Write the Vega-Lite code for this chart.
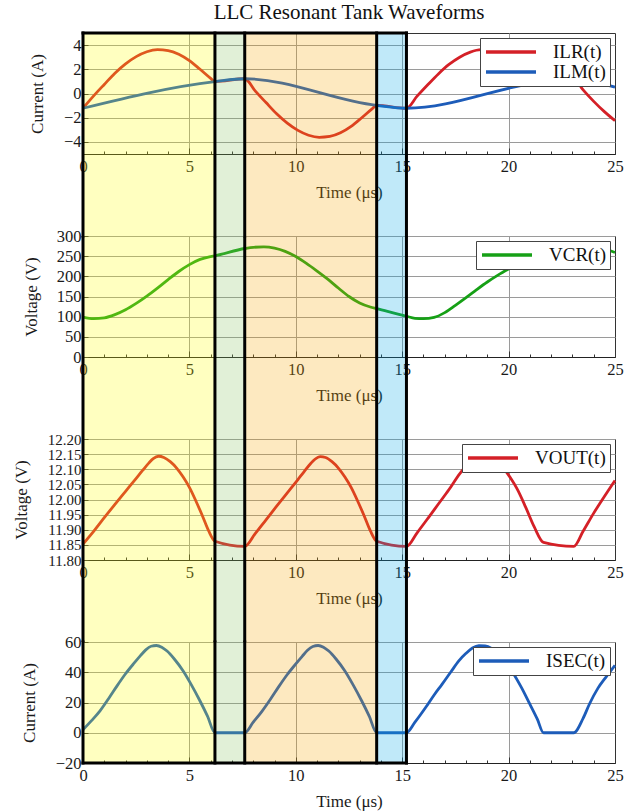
{
  "$schema": "https://vega.github.io/schema/vega-lite/v6.json",
  "background": "white",
  "padding": {"left": 11, "top": 1, "right": 5, "bottom": 5},
  "spacing": 82,
  "bounds": "flush",
  "resolve": {"scale": {"color": "independent"}, "legend": {"color": "independent"}},
  "config": {
    "font": "Liberation Serif",
    "view": {"stroke": "#333", "strokeWidth": 1},
    "axis": {
      "labelFont": "Liberation Serif", "labelFontSize": 16.5, "labelColor": "#1a1a1a", "labelOverlap": false, "tickCount": 100,
      "titleFont": "Liberation Serif", "titleFontSize": 17, "titleFontWeight": "normal", "titleColor": "#1a1a1a",
      "domainColor": "#222", "tickColor": "#333", "gridColor": "#9a9a9a", "gridOpacity": 1, "gridWidth": 1
    },
    "legend": {
      "orient": "top-right", "offset": 5, "title": null,
      "symbolType": "M-3.125,0H3.125", "symbolSize": 256, "symbolOffset": 17, "symbolStrokeWidth": 3.5,
      "labelOffset": 32, "labelFontSize": 19, "labelFont": "Liberation Serif", "labelColor": "#111", "labelLimit": 0,
      "strokeColor": "#444", "fillColor": "#ffffff", "padding": 4, "rowPadding": 0
    }
  },
  "datasets": {
    "cur": [
      {"t": 0, "v": -1.22, "s": "ILR(t)"}, {"t": 0.5, "v": -0.2, "s": "ILR(t)"}, {"t": 1, "v": 0.75, "s": "ILR(t)"}, {"t": 1.5, "v": 1.68, "s": "ILR(t)"},
      {"t": 2, "v": 2.45, "s": "ILR(t)"}, {"t": 2.5, "v": 3.05, "s": "ILR(t)"}, {"t": 3, "v": 3.45, "s": "ILR(t)"}, {"t": 3.5, "v": 3.62, "s": "ILR(t)"},
      {"t": 4, "v": 3.55, "s": "ILR(t)"}, {"t": 4.5, "v": 3.25, "s": "ILR(t)"}, {"t": 5, "v": 2.72, "s": "ILR(t)"}, {"t": 5.5, "v": 2.0, "s": "ILR(t)"},
      {"t": 6, "v": 1.25, "s": "ILR(t)"}, {"t": 6.2, "v": 0.98, "s": "ILR(t)"}, {"t": 7.6, "v": 1.22, "s": "ILR(t)"},
      {"t": 8.1, "v": 0.2, "s": "ILR(t)"}, {"t": 8.6, "v": -0.75, "s": "ILR(t)"}, {"t": 9.1, "v": -1.68, "s": "ILR(t)"}, {"t": 9.6, "v": -2.45, "s": "ILR(t)"},
      {"t": 10.1, "v": -3.05, "s": "ILR(t)"}, {"t": 10.6, "v": -3.45, "s": "ILR(t)"}, {"t": 11.1, "v": -3.62, "s": "ILR(t)"}, {"t": 11.6, "v": -3.55, "s": "ILR(t)"},
      {"t": 12.1, "v": -3.25, "s": "ILR(t)"}, {"t": 12.6, "v": -2.72, "s": "ILR(t)"}, {"t": 13.1, "v": -2.0, "s": "ILR(t)"}, {"t": 13.6, "v": -1.25, "s": "ILR(t)"},
      {"t": 13.8, "v": -0.98, "s": "ILR(t)"}, {"t": 15.2, "v": -1.22, "s": "ILR(t)"},
      {"t": 15.7, "v": -0.22, "s": "ILR(t)"}, {"t": 16.2, "v": 0.72, "s": "ILR(t)"}, {"t": 16.7, "v": 1.62, "s": "ILR(t)"}, {"t": 17.2, "v": 2.4, "s": "ILR(t)"},
      {"t": 17.7, "v": 3.0, "s": "ILR(t)"}, {"t": 18.2, "v": 3.42, "s": "ILR(t)"}, {"t": 18.7, "v": 3.62, "s": "ILR(t)"}, {"t": 19.2, "v": 3.58, "s": "ILR(t)"},
      {"t": 19.7, "v": 3.32, "s": "ILR(t)"}, {"t": 20.2, "v": 2.85, "s": "ILR(t)"}, {"t": 20.7, "v": 2.2, "s": "ILR(t)"}, {"t": 21.2, "v": 1.5, "s": "ILR(t)"},
      {"t": 21.64, "v": 1.0, "s": "ILR(t)"}, {"t": 23.06, "v": 1.22, "s": "ILR(t)"}, {"t": 23.5, "v": 0.3, "s": "ILR(t)"}, {"t": 24, "v": -0.65, "s": "ILR(t)"},
      {"t": 24.5, "v": -1.5, "s": "ILR(t)"}, {"t": 25, "v": -2.25, "s": "ILR(t)"},
      {"t": 0, "v": -1.22, "s": "ILM(t)"}, {"t": 6.2, "v": 0.98, "s": "ILM(t)"}, {"t": 7.6, "v": 1.22, "s": "ILM(t)"}, {"t": 13.8, "v": -0.98, "s": "ILM(t)"},
      {"t": 15.2, "v": -1.22, "s": "ILM(t)"}, {"t": 21.64, "v": 0.98, "s": "ILM(t)"}, {"t": 23.06, "v": 1.22, "s": "ILM(t)"}, {"t": 25, "v": 0.52, "s": "ILM(t)"}
    ],
    "vcr": [
      {"t": 0, "v": 99}, {"t": 0.5, "v": 95}, {"t": 1, "v": 97}, {"t": 1.5, "v": 105}, {"t": 2, "v": 117}, {"t": 2.5, "v": 133},
      {"t": 3, "v": 151}, {"t": 3.5, "v": 171}, {"t": 4, "v": 192}, {"t": 4.5, "v": 212}, {"t": 5, "v": 229}, {"t": 5.5, "v": 242},
      {"t": 6, "v": 249}, {"t": 6.2, "v": 251}, {"t": 7.6, "v": 269}, {"t": 8, "v": 272}, {"t": 8.5, "v": 273}, {"t": 9, "v": 270},
      {"t": 9.5, "v": 262}, {"t": 10, "v": 249}, {"t": 10.5, "v": 232}, {"t": 11, "v": 213}, {"t": 11.5, "v": 193}, {"t": 12, "v": 171},
      {"t": 12.5, "v": 150}, {"t": 13, "v": 134}, {"t": 13.5, "v": 124}, {"t": 13.8, "v": 120}, {"t": 15.2, "v": 101}, {"t": 15.6, "v": 96},
      {"t": 16, "v": 95}, {"t": 16.5, "v": 98}, {"t": 17, "v": 110}, {"t": 17.5, "v": 128}, {"t": 18, "v": 147}, {"t": 18.5, "v": 167},
      {"t": 19, "v": 186}, {"t": 19.5, "v": 203}, {"t": 20, "v": 218}, {"t": 20.5, "v": 232}, {"t": 21, "v": 243}, {"t": 21.64, "v": 251},
      {"t": 23.06, "v": 269}, {"t": 23.5, "v": 272}, {"t": 24, "v": 273}, {"t": 24.5, "v": 268}, {"t": 25, "v": 259}
    ],
    "vout": [
      {"t": 0, "v": 11.853}, {"t": 0.5, "v": 11.895}, {"t": 1, "v": 11.94}, {"t": 1.5, "v": 11.984}, {"t": 2, "v": 12.027}, {"t": 2.5, "v": 12.07},
      {"t": 2.8, "v": 12.096}, {"t": 3.1, "v": 12.121}, {"t": 3.3, "v": 12.135}, {"t": 3.55, "v": 12.143}, {"t": 3.8, "v": 12.139}, {"t": 4.1, "v": 12.125},
      {"t": 4.4, "v": 12.104}, {"t": 4.7, "v": 12.075}, {"t": 5.0, "v": 12.04}, {"t": 5.3, "v": 11.996}, {"t": 5.6, "v": 11.948}, {"t": 5.9, "v": 11.897},
      {"t": 6.2, "v": 11.862}, {"t": 7.6, "v": 11.845},
      {"t": 8.1, "v": 11.888}, {"t": 8.6, "v": 11.933}, {"t": 9.1, "v": 11.978}, {"t": 9.6, "v": 12.022}, {"t": 10.1, "v": 12.066}, {"t": 10.4, "v": 12.093},
      {"t": 10.7, "v": 12.119}, {"t": 10.9, "v": 12.133}, {"t": 11.15, "v": 12.142}, {"t": 11.4, "v": 12.139}, {"t": 11.7, "v": 12.125}, {"t": 12.0, "v": 12.104},
      {"t": 12.3, "v": 12.075}, {"t": 12.6, "v": 12.04}, {"t": 12.9, "v": 11.996}, {"t": 13.2, "v": 11.948}, {"t": 13.5, "v": 11.897}, {"t": 13.8, "v": 11.862},
      {"t": 15.2, "v": 11.845},
      {"t": 15.7, "v": 11.89}, {"t": 16.2, "v": 11.937}, {"t": 16.7, "v": 11.985}, {"t": 17.2, "v": 12.033}, {"t": 17.7, "v": 12.085}, {"t": 18.0, "v": 12.11},
      {"t": 18.3, "v": 12.129}, {"t": 18.6, "v": 12.14}, {"t": 18.85, "v": 12.143}, {"t": 19.1, "v": 12.139}, {"t": 19.4, "v": 12.126}, {"t": 19.74, "v": 12.105},
      {"t": 20.1, "v": 12.07}, {"t": 20.4, "v": 12.035}, {"t": 20.8, "v": 11.975}, {"t": 21.2, "v": 11.91}, {"t": 21.64, "v": 11.858}, {"t": 23.06, "v": 11.845},
      {"t": 23.5, "v": 11.895}, {"t": 24, "v": 11.955}, {"t": 24.5, "v": 12.01}, {"t": 25, "v": 12.063}
    ],
    "isec": [
      {"t": 0, "v": 2}, {"t": 0.4, "v": 8}, {"t": 0.8, "v": 14.5}, {"t": 1.2, "v": 22.5}, {"t": 1.6, "v": 31}, {"t": 2.0, "v": 39},
      {"t": 2.4, "v": 46}, {"t": 2.7, "v": 51}, {"t": 2.95, "v": 54.8}, {"t": 3.2, "v": 57.2}, {"t": 3.45, "v": 57.7}, {"t": 3.7, "v": 56.6},
      {"t": 3.95, "v": 54}, {"t": 4.3, "v": 48.6}, {"t": 4.7, "v": 41}, {"t": 5.1, "v": 31.5}, {"t": 5.5, "v": 21}, {"t": 5.85, "v": 11},
      {"t": 6.2, "v": 0}, {"t": 7.6, "v": 0},
      {"t": 8.0, "v": 7}, {"t": 8.4, "v": 14}, {"t": 8.8, "v": 22}, {"t": 9.2, "v": 30.5}, {"t": 9.6, "v": 38.5}, {"t": 10.0, "v": 45.5},
      {"t": 10.3, "v": 50.5}, {"t": 10.55, "v": 54.5}, {"t": 10.8, "v": 57}, {"t": 11.05, "v": 57.7}, {"t": 11.3, "v": 56.6}, {"t": 11.55, "v": 54},
      {"t": 11.9, "v": 48.6}, {"t": 12.3, "v": 41}, {"t": 12.7, "v": 31.5}, {"t": 13.1, "v": 21}, {"t": 13.45, "v": 11}, {"t": 13.8, "v": 0},
      {"t": 15.2, "v": 0},
      {"t": 15.6, "v": 7}, {"t": 16.1, "v": 16.7}, {"t": 16.5, "v": 25}, {"t": 16.87, "v": 32}, {"t": 17.3, "v": 40.5}, {"t": 17.66, "v": 47.5},
      {"t": 18.0, "v": 52.5}, {"t": 18.3, "v": 56}, {"t": 18.6, "v": 57.6}, {"t": 18.9, "v": 57.5}, {"t": 19.2, "v": 55.8}, {"t": 19.6, "v": 50.5},
      {"t": 20.2, "v": 39.7}, {"t": 20.6, "v": 30}, {"t": 21.0, "v": 18.9}, {"t": 21.35, "v": 9}, {"t": 21.64, "v": 0}, {"t": 23.06, "v": 0},
      {"t": 23.5, "v": 9.5}, {"t": 23.8, "v": 19}, {"t": 24.2, "v": 29.5}, {"t": 24.56, "v": 36.5}, {"t": 25, "v": 44.5}
    ],
    "phases": [
      {"a": 0, "b": 6.2, "p": "P1"}, {"a": 6.2, "b": 7.6, "p": "P2"}, {"a": 7.6, "b": 13.8, "p": "P3"}, {"a": 13.8, "b": 15.2, "p": "P4"}
    ],
    "edges": [{"t": 0}, {"t": 6.2}, {"t": 7.6}, {"t": 13.8}, {"t": 15.2}]
  },
  "vconcat": [
    {
      "width": 532, "height": 121,
      "title": {"text": "LLC Resonant Tank Waveforms", "anchor": "middle", "frame": "group", "offset": -9, "baseline": "alphabetic", "fontSize": 21, "font": "Liberation Serif", "fontWeight": "normal", "color": "#111"},
      "layer": [
        {"data": {"name": "cur"}, "mark": {"type": "line", "interpolate": "monotone", "strokeWidth": 2.8},
         "encoding": {
           "x": {"field": "t", "type": "quantitative", "scale": {"domain": [0, 25], "nice": false, "zero": false},
                 "axis": {"title": "Time (μs)", "values": [0,1,2,3,4,5,6,7,8,9,10,11,12,13,14,15,16,17,18,19,20,21,22,23,24,25], "format": "d", "tickCount": 100, "labelExpr": "datum.value % 5 === 0 ? datum.label : ''", "labelOverlap": false, "labelFlush": false, "labelBound": false, "tickSize": {"condition": {"test": "datum.value % 5 === 0", "value": -6}, "value": -3}, "gridColor": {"condition": {"test": "datum.value % 5 === 0 && datum.value > 0 && datum.value < 25", "value": "#9a9a9a"}, "value": "rgba(0,0,0,0)"}, "labelPadding": 10, "titlePadding": 7}},
           "y": {"field": "v", "type": "quantitative", "scale": {"domain": [-5, 5], "nice": false, "zero": false},
                 "axis": {"title": "Current (A)", "values": [-4, -2, 0, 2, 4], "format": "d", "tickCount": 100, "labelOverlap": false, "tickSize": -5, "labelPadding": 7, "titlePadding": 17}},
           "color": {"field": "s", "type": "nominal", "scale": {"domain": ["ILR(t)", "ILM(t)"], "range": ["#d42027", "#1d5cb9"]}, "legend": {}}
         }},
        {"data": {"name": "phases"}, "mark": {"type": "rect", "opacity": 0.25, "clip": false},
         "encoding": {"x": {"field": "a", "type": "quantitative"}, "x2": {"field": "b"}, "y": {"datum": 5, "type": "quantitative"}, "y2": {"datum": -11.777},
           "fill": {"field": "p", "type": "nominal", "scale": {"domain": ["P1", "P2", "P3", "P4"], "range": ["#ffff03", "#87c35f", "#f7a703", "#03a7e7"]}, "legend": null}}},
        {"data": {"name": "edges"}, "mark": {"type": "rule", "strokeWidth": 3, "color": "#000", "clip": false, "strokeCap": "square"},
         "encoding": {"x": {"field": "t", "type": "quantitative"}, "y": {"datum": 5, "type": "quantitative"}, "y2": {"datum": -11.777}}},
        {"data": {"values": [{}]}, "mark": {"type": "rule", "strokeWidth": 3, "color": "#000", "clip": false, "strokeCap": "square"},
         "encoding": {"x": {"datum": 0, "type": "quantitative"}, "x2": {"datum": 15.2}, "y": {"datum": 5, "type": "quantitative"}}}
      ]
    },
    {
      "width": 532, "height": 121,
      "layer": [
        {"data": {"name": "vcr"}, "mark": {"type": "line", "interpolate": "monotone", "strokeWidth": 2.8},
         "encoding": {
           "x": {"field": "t", "type": "quantitative", "scale": {"domain": [0, 25], "nice": false, "zero": false},
                 "axis": {"title": "Time (μs)", "values": [0,1,2,3,4,5,6,7,8,9,10,11,12,13,14,15,16,17,18,19,20,21,22,23,24,25], "format": "d", "tickCount": 100, "labelExpr": "datum.value % 5 === 0 ? datum.label : ''", "labelOverlap": false, "labelFlush": false, "labelBound": false, "tickSize": {"condition": {"test": "datum.value % 5 === 0", "value": -6}, "value": -3}, "gridColor": {"condition": {"test": "datum.value % 5 === 0 && datum.value > 0 && datum.value < 25", "value": "#9a9a9a"}, "value": "rgba(0,0,0,0)"}, "labelPadding": 10, "titlePadding": 7}},
           "y": {"field": "v", "type": "quantitative", "scale": {"domain": [0, 300], "nice": false, "zero": false},
                 "axis": {"title": "Voltage (V)", "values": [0, 50, 100, 150, 200, 250, 300], "format": "d", "tickCount": 100, "labelOverlap": false, "tickSize": -5, "labelPadding": 7, "titlePadding": 15.5}},
           "color": {"datum": "VCR(t)", "type": "nominal", "scale": {"range": ["#16a016"]}, "legend": {}}
         }},
        {"data": {"name": "phases"}, "mark": {"type": "rect", "opacity": 0.25, "clip": false},
         "encoding": {"x": {"field": "a", "type": "quantitative"}, "x2": {"field": "b"}, "y": {"datum": 300, "type": "quantitative"}, "y2": {"datum": -203.3},
           "fill": {"field": "p", "type": "nominal", "scale": {"domain": ["P1", "P2", "P3", "P4"], "range": ["#ffff03", "#87c35f", "#f7a703", "#03a7e7"]}, "legend": null}}},
        {"data": {"name": "edges"}, "mark": {"type": "rule", "strokeWidth": 3, "color": "#000", "clip": false},
         "encoding": {"x": {"field": "t", "type": "quantitative"}, "y": {"datum": 300, "type": "quantitative"}, "y2": {"datum": -203.3}}}
      ]
    },
    {
      "width": 532, "height": 121,
      "layer": [
        {"data": {"name": "vout"}, "mark": {"type": "line", "interpolate": "monotone", "strokeWidth": 2.8},
         "encoding": {
           "x": {"field": "t", "type": "quantitative", "scale": {"domain": [0, 25], "nice": false, "zero": false},
                 "axis": {"title": "Time (μs)", "values": [0,1,2,3,4,5,6,7,8,9,10,11,12,13,14,15,16,17,18,19,20,21,22,23,24,25], "format": "d", "tickCount": 100, "labelExpr": "datum.value % 5 === 0 ? datum.label : ''", "labelOverlap": false, "labelFlush": false, "labelBound": false, "tickSize": {"condition": {"test": "datum.value % 5 === 0", "value": -6}, "value": -3}, "gridColor": {"condition": {"test": "datum.value % 5 === 0 && datum.value > 0 && datum.value < 25", "value": "#9a9a9a"}, "value": "rgba(0,0,0,0)"}, "labelPadding": 10, "titlePadding": 7}},
           "y": {"field": "v", "type": "quantitative", "scale": {"domain": [11.8, 12.2], "nice": false, "zero": false},
                 "axis": {"title": "Voltage (V)", "values": [11.8, 11.85, 11.9, 11.95, 12.0, 12.05, 12.1, 12.15, 12.2], "tickCount": 100, "format": ".2f", "labelFontSize": 15, "labelOverlap": false, "tickSize": -5, "labelPadding": 7, "titlePadding": 17}},
           "color": {"datum": "VOUT(t)", "type": "nominal", "scale": {"range": ["#d42027"]}, "legend": {}}
         }},
        {"data": {"name": "phases"}, "mark": {"type": "rect", "opacity": 0.25, "clip": false},
         "encoding": {"x": {"field": "a", "type": "quantitative"}, "x2": {"field": "b"}, "y": {"datum": 12.2, "type": "quantitative"}, "y2": {"datum": 11.52893},
           "fill": {"field": "p", "type": "nominal", "scale": {"domain": ["P1", "P2", "P3", "P4"], "range": ["#ffff03", "#87c35f", "#f7a703", "#03a7e7"]}, "legend": null}}},
        {"data": {"name": "edges"}, "mark": {"type": "rule", "strokeWidth": 3, "color": "#000", "clip": false},
         "encoding": {"x": {"field": "t", "type": "quantitative"}, "y": {"datum": 12.2, "type": "quantitative"}, "y2": {"datum": 11.52893}}}
      ]
    },
    {
      "width": 532, "height": 121,
      "layer": [
        {"data": {"name": "isec"}, "mark": {"type": "line", "interpolate": "monotone", "strokeWidth": 2.8},
         "encoding": {
           "x": {"field": "t", "type": "quantitative", "scale": {"domain": [0, 25], "nice": false, "zero": false},
                 "axis": {"title": "Time (μs)", "values": [0,1,2,3,4,5,6,7,8,9,10,11,12,13,14,15,16,17,18,19,20,21,22,23,24,25], "format": "d", "tickCount": 100, "labelExpr": "datum.value % 5 === 0 ? datum.label : ''", "labelOverlap": false, "labelFlush": false, "labelBound": false, "tickSize": {"condition": {"test": "datum.value % 5 === 0", "value": -6}, "value": -3}, "gridColor": {"condition": {"test": "datum.value % 5 === 0 && datum.value > 0 && datum.value < 25", "value": "#9a9a9a"}, "value": "rgba(0,0,0,0)"}, "labelPadding": 10, "titlePadding": 7}},
           "y": {"field": "v", "type": "quantitative", "scale": {"domain": [-20, 60], "nice": false, "zero": false},
                 "axis": {"title": "Current (A)", "values": [-20, 0, 20, 40, 60], "format": "d", "tickCount": 100, "labelOverlap": false, "tickSize": -5, "labelPadding": 7, "titlePadding": 17}},
           "color": {"datum": "ISEC(t)", "type": "nominal", "scale": {"range": ["#1d5cb9"]}, "legend": {}}
         }},
        {"data": {"name": "phases"}, "mark": {"type": "rect", "opacity": 0.25, "clip": false},
         "encoding": {"x": {"field": "a", "type": "quantitative"}, "x2": {"field": "b"}, "y": {"datum": 60, "type": "quantitative"}, "y2": {"datum": -20},
           "fill": {"field": "p", "type": "nominal", "scale": {"domain": ["P1", "P2", "P3", "P4"], "range": ["#ffff03", "#87c35f", "#f7a703", "#03a7e7"]}, "legend": null}}},
        {"data": {"name": "edges"}, "mark": {"type": "rule", "strokeWidth": 3, "color": "#000", "clip": false, "strokeCap": "square"},
         "encoding": {"x": {"field": "t", "type": "quantitative"}, "y": {"datum": 60, "type": "quantitative"}, "y2": {"datum": -20}}},
        {"data": {"values": [{}]}, "mark": {"type": "rule", "strokeWidth": 3, "color": "#000", "clip": false, "strokeCap": "square"},
         "encoding": {"x": {"datum": 0, "type": "quantitative"}, "x2": {"datum": 15.2}, "y": {"datum": -20, "type": "quantitative"}}}
      ]
    }
  ]
}
